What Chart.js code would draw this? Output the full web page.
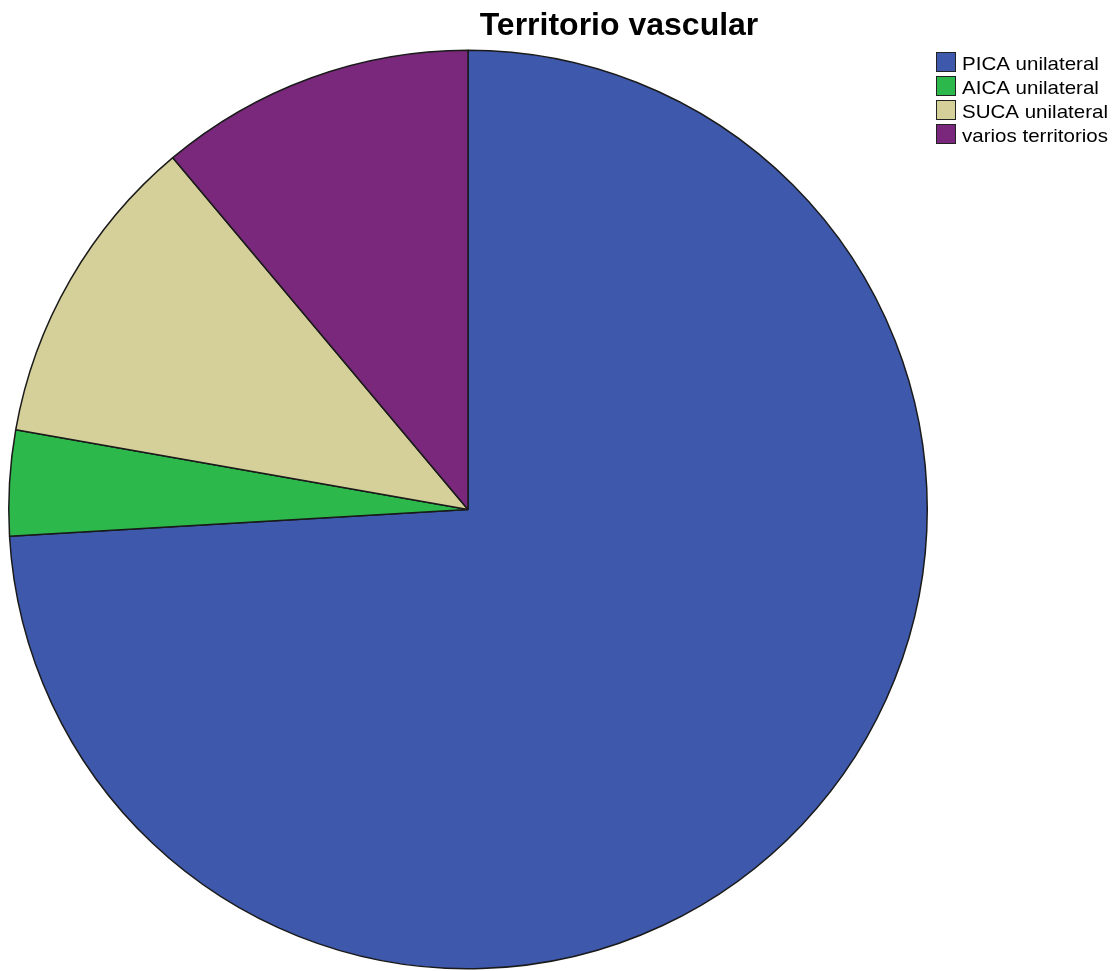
<!DOCTYPE html>
<html>
<head>
<meta charset="utf-8">
<script src="https://cdn.jsdelivr.net/npm/chart.js@4"></script>
<style>
  html, body { margin: 0; padding: 0; background: #ffffff; }
  #wrap { width: 1120px; height: 971px; position: relative; }
</style>
</head>
<body>
<div id="wrap"><canvas id="pie"></canvas></div>
<script>
// Territorio vascular: conteo de casos por territorio
const categories = ['PICA unilateral', 'AICA unilateral', 'SUCA unilateral', 'varios territorios'];
const counts = [20, 1, 3, 3];
const sliceColors = ['#3e58ac', '#2db84c', '#d5cf99', '#79287b'];
const chartTitle = 'Territorio vascular';

// title and legend drawn by hand so they sit where the SPSS output puts them
const titleAndLegend = {
    id: 'titleAndLegend',
    afterDraw(chart) {
        const ctx = chart.ctx;
        ctx.save();
        ctx.fillStyle = '#000000';
        ctx.font = 'bold 32px "Liberation Sans", Arial, sans-serif';
        ctx.textAlign = 'center';
        ctx.textBaseline = 'alphabetic';
        ctx.fillText(chartTitle, 619, 35);

        ctx.font = '19px "Liberation Sans", Arial, sans-serif';
        ctx.textAlign = 'left';
        const labels = chart.data.labels;
        const colors = chart.data.datasets[0].backgroundColor;
        labels.forEach((label, i) => {
            const y = 52 + i * 24;
            ctx.fillStyle = colors[i];
            ctx.fillRect(936.5, y + 0.5, 19, 19);
            ctx.strokeStyle = '#222222';
            ctx.lineWidth = 1;
            ctx.strokeRect(936.5, y + 0.5, 19, 19);
            // SPSS text runs a little wider than the browser's
            ctx.save();
            ctx.translate(962, y + 18);
            ctx.scale(1.08, 1);
            ctx.fillStyle = '#000000';
            ctx.fillText(label, 0, 0);
            ctx.restore();
        });
        ctx.restore();
    }
};

new Chart(document.getElementById('pie'), {
    type: 'pie',
    data: {
        labels: categories,
        datasets: [{
            data: counts,
            backgroundColor: sliceColors,
            borderColor: '#1a1a1a',
            borderWidth: 1.5
        }]
    },
    options: {
        responsive: true,
        maintainAspectRatio: false,
        animation: false,
        rotation: 0,
        layout: {
            padding: { top: 49, bottom: 1, left: 8, right: 192 }
        },
        plugins: {
            legend: { display: false },
            title: { display: false },
            tooltip: { enabled: false }
        }
    },
    plugins: [titleAndLegend]
});
</script>
</body>
</html>
